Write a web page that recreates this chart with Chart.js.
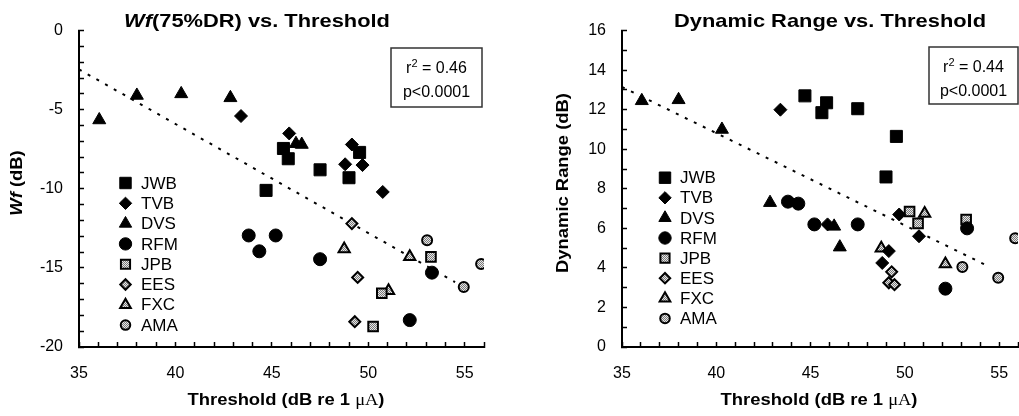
<!DOCTYPE html>
<html>
<head>
<meta charset="utf-8">
<script src="https://cdn.jsdelivr.net/npm/chart.js@4"></script>
<style>
    html, body { margin: 0; padding: 0; background: #fff; }
    body { width: 1019px; height: 416px; overflow: hidden; position: relative; }
    canvas { position: absolute; top: 0; }
    #cWf { left: 0; }
    #cDR { left: 510px; }
</style>
</head>
<body>
<canvas id="cWf" width="510" height="416"></canvas>
<canvas id="cDR" width="530" height="416"></canvas>
<script>
// Data ------------------------------------------------------------
const subjects = ['JWB', 'TVB', 'DVS', 'RFM', 'JPB', 'EES', 'FXC', 'AMA'];

const jwbThr = [44.7, 45.6, 45.85, 47.5, 49.0, 49.55];
const jwbWf = [-10.1, -7.45, -8.1, -8.8, -9.3, -7.7];
const jwbDR = [12.7, 11.85, 12.35, 12.05, 8.6, 10.65];

const tvbThr = [43.4, 45.9, 48.8, 49.15, 49.7, 50.75];
const tvbWf = [-5.4, -6.5, -8.45, -7.2, -8.5, -10.2];
const tvbDR = [12.0, 6.2, 4.25, 4.85, 6.7, 5.6];

const dvsThr = [36.05, 38.0, 40.3, 42.85, 46.25, 46.55];
const dvsWf = [-5.65, -4.1, -4.0, -4.25, -7.15, -7.2];
const dvsDR = [12.45, 12.5, 11.0, 7.3, 6.1, 5.05];

const rfmThr = [43.8, 44.35, 45.2, 47.5, 52.15, 53.3];
const rfmWf = [-12.95, -13.95, -12.95, -14.45, -18.3, -15.3];
const rfmDR = [7.35, 7.25, 6.2, 6.2, 2.95, 6.0];

const jpbThr = [50.25, 50.7, 53.25];
const jpbWf = [-18.7, -16.6, -14.3];
const jpbDR = [6.85, 6.25, 6.45];

const eesThr = [49.15, 49.3, 49.45];
const eesWf = [-12.2, -18.4, -15.6];
const eesDR = [3.25, 3.8, 3.15];

const fxcThr = [48.75, 51.05, 52.15];
const fxcWf = [-13.8, -16.45, -14.3];
const fxcDR = [5.0, 6.75, 4.2];

const amaThr = [53.05, 54.95, 55.85];
const amaWf = [-13.25, -16.2, -14.75];
const amaDR = [4.05, 3.5, 5.5];

// regression lines (end points)
const trendX = [35, 54.5];
const wfTrend = [-2.45, -15.9];
const drTrend = [13.15, 4.05];

// axis ranges / tick labels
const xRange = [35, 56];
const xLabels = [35, 40, 45, 50, 55];
const wfRange = [-20, 0];
const wfLabels = [-20, -15, -10, -5, 0];
const drRange = [0, 16];
const drLabels = [0, 2, 4, 6, 8, 10, 12, 14, 16];

const wfStats = ['0.46', 'p<0.0001'];
const drStats = ['0.44', 'p<0.0001'];

// ------------------------------------------------------------------
Chart.defaults.font.family = "'Liberation Sans', Arial, sans-serif";
Chart.defaults.color = '#000';

// grey stipple for the open symbols
var pc = document.createElement('canvas');
pc.width = 2; pc.height = 2;
var pctx = pc.getContext('2d');
pctx.fillStyle = '#e6e6e6'; pctx.fillRect(0, 0, 2, 2);
pctx.fillStyle = '#7a7a7a'; pctx.fillRect(0, 0, 1, 1); pctx.fillRect(1, 1, 1, 1);
var stipple = pctx.createPattern(pc, 'repeat');

var symbols = {
    JWB: { pointStyle: 'rect', radius: 8.5, fill: '#000', bw: 1 },
    TVB: { pointStyle: 'rectRot', radius: 6.5, fill: '#000', bw: 1 },
    DVS: { pointStyle: 'triangle', radius: 7.5, fill: '#000', bw: 1 },
    RFM: { pointStyle: 'circle', radius: 6.5, fill: '#000', bw: 1 },
    JPB: { pointStyle: 'rect', radius: 6.8, fill: stipple, bw: 2 },
    EES: { pointStyle: 'rectRot', radius: 5.5, fill: stipple, bw: 2 },
    FXC: { pointStyle: 'triangle', radius: 6.5, fill: stipple, bw: 2 },
    AMA: { pointStyle: 'circle', radius: 5, fill: stipple, bw: 2 }
};

function toPoints(xs, ys) {
    return xs.map(function (x, i) { return { x: x, y: ys[i] }; });
}

function subjectSet(name, xs, ys) {
    var s = symbols[name];
    return {
        label: name,
        data: toPoints(xs, ys),
        pointStyle: s.pointStyle,
        pointRadius: s.radius,
        pointBackgroundColor: s.fill,
        pointBorderColor: '#000',
        pointBorderWidth: s.bw,
        order: 1
    };
}

function trendSet(ys) {
    return {
        label: 'fit',
        data: toPoints(trendX, ys),
        showLine: true,
        pointRadius: 0,
        borderColor: '#000',
        borderWidth: 2,
        borderDash: [3, 7],
        order: 10
    };
}

var WIDE = 1.15; // bold headings in the scan are a bit wider than Arial

// draw a run of text pieces (each with own font) centred at x,y
function textParts(c, parts, x, y, angle) {
    var w = 0;
    parts.forEach(function (p) { c.font = p[1]; w += c.measureText(p[0]).width; });
    c.save();
    c.translate(x, y);
    if (angle) c.rotate(angle);
    c.scale(WIDE, 1);
    c.textBaseline = 'middle';
    c.textAlign = 'left';
    c.fillStyle = '#000';
    var cx = -w / 2;
    parts.forEach(function (p) {
        c.font = p[1];
        c.fillText(p[0], cx, 0);
        cx += c.measureText(p[0]).width;
    });
    c.restore();
}

var B19 = "bold 19px 'Liberation Sans', Arial, sans-serif";
var BI19 = "italic bold 19px 'Liberation Sans', Arial, sans-serif";
var B16 = "bold 16px 'Liberation Sans', Arial, sans-serif";
var BI16 = "italic bold 16px 'Liberation Sans', Arial, sans-serif";
var S16 = "16px 'Liberation Serif', 'Times New Roman', serif";
var R16 = "16px 'Liberation Sans', Arial, sans-serif";
var R11 = "11px 'Liberation Sans', Arial, sans-serif";
var R17 = "17px 'Liberation Sans', Arial, sans-serif";

function decor(cfg) {
    return {
        id: 'decor',
        afterDraw: function (chart) {
            var c = chart.ctx;
            // title
            textParts(c, cfg.title, cfg.titleX, 22);
            // axis titles
            textParts(c, cfg.yTitle, cfg.yTitleX, 183, -Math.PI / 2);
            textParts(c, [['Threshold (dB re 1 ', B16], ['\u03bcA', S16], [')', B16]], cfg.xTitleX, 401);

            // stats box
            var b = cfg.box;
            c.save();
            c.strokeStyle = '#333';
            c.lineWidth = 1.5;
            c.strokeRect(b[0], b[1], b[2], b[3]);
            c.fillStyle = '#000';
            c.textBaseline = 'alphabetic';
            c.textAlign = 'left';
            var cx = b[0] + b[2] / 2;
            c.font = R16; var w1 = c.measureText('r').width;
            var w3 = c.measureText(' = ' + cfg.stats[0]).width;
            c.font = R11; var w2 = c.measureText('2').width;
            var sx = cx - (w1 + w2 + w3) / 2;
            var by = b[1] + 24.5;
            c.font = R16; c.fillText('r', sx, by);
            c.font = R11; c.fillText('2', sx + w1, by - 6);
            c.font = R16; c.fillText(' = ' + cfg.stats[0], sx + w1 + w2, by);
            c.textAlign = 'center';
            c.fillText(cfg.stats[1], cx, b[1] + 48.5);
            c.restore();

            // legend
            var lg = cfg.legend;
            subjects.forEach(function (name, i) {
                var s = symbols[name];
                var y = lg.y + i * lg.step;
                c.save();
                c.fillStyle = s.fill;
                c.strokeStyle = '#000';
                c.lineWidth = s.bw;
                Chart.helpers.drawPoint(c, { pointStyle: s.pointStyle, radius: s.radius * 0.95, rotation: 0, borderWidth: s.bw }, lg.mx, y);
                c.fillStyle = '#000';
                c.font = R17;
                c.textAlign = 'left';
                c.textBaseline = 'middle';
                c.fillText(name, lg.tx, y + 1);
                c.restore();
            });
        }
    };
}

function xAxis() {
    return {
        type: 'linear',
        min: xRange[0],
        max: xRange[1],
        afterFit: function (s) { s.height = 69; },
        border: { color: '#000', width: 2 },
        grid: { drawOnChartArea: false, drawTicks: true, tickLength: -5, tickWidth: 1.5, tickColor: '#000' },
        ticks: {
            stepSize: 1, maxTicksLimit: 40, autoSkip: false, maxRotation: 0, padding: 22,
            font: { size: 16 }, color: '#000',
            callback: function (v) { return xLabels.indexOf(v) >= 0 ? v : ''; }
        }
    };
}

function yAxis(range, labels, width) {
    return {
        type: 'linear',
        min: range[0],
        max: range[1],
        afterFit: function (s) { s.width = width; },
        border: { color: '#000', width: 2 },
        grid: { drawOnChartArea: false, drawTicks: true, tickLength: -5, tickWidth: 1.5, tickColor: '#000' },
        ticks: {
            stepSize: 1, maxTicksLimit: 40, autoSkip: false, padding: 21,
            font: { size: 16 }, color: '#000',
            callback: function (v) { return labels.indexOf(v) >= 0 ? v : ''; }
        }
    };
}

var baseOptions = {
    responsive: false,
    animation: false,
    events: [],
    plugins: { legend: { display: false }, tooltip: { enabled: false } }
};

// Chart Wf vs Threshold -------------------------------------
var ctx = document.getElementById('cWf');
var wfChart = new Chart(ctx, {
    type: 'scatter',
    data: {
        datasets: [
            subjectSet('JWB', jwbThr, jwbWf),
            subjectSet('TVB', tvbThr, tvbWf),
            subjectSet('DVS', dvsThr, dvsWf),
            subjectSet('RFM', rfmThr, rfmWf),
            subjectSet('JPB', jpbThr, jpbWf),
            subjectSet('EES', eesThr, eesWf),
            subjectSet('FXC', fxcThr, fxcWf),
            subjectSet('AMA', amaThr, amaWf),
            trendSet(wfTrend)
        ]
    },
    options: Object.assign({}, baseOptions, {
        layout: { padding: { top: 20, right: 26, left: 0, bottom: 0 } },
        scales: { x: xAxis(), y: yAxis(wfRange, wfLabels, 79) }
    }),
    plugins: [decor({
        title: [['Wf', BI19], ['(75%DR) vs. Threshold', B19]],
        titleX: 257,
        yTitle: [['Wf', BI16], [' (dB)', B16]],
        yTitleX: 18,
        xTitleX: 286,
        box: [391, 48, 91, 59],
        stats: wfStats,
        legend: { mx: 125.5, tx: 141, y: 183, step: 20.3 }
    })]
});

// Chart Dynamic Range vs Threshold -------------------------------------
var ctx2 = document.getElementById('cDR');
var drChart = new Chart(ctx2, {
    type: 'scatter',
    data: {
        datasets: [
            subjectSet('JWB', jwbThr, jwbDR),
            subjectSet('TVB', tvbThr, tvbDR),
            subjectSet('DVS', dvsThr, dvsDR),
            subjectSet('RFM', rfmThr, rfmDR),
            subjectSet('JPB', jpbThr, jpbDR),
            subjectSet('EES', eesThr, eesDR),
            subjectSet('FXC', fxcThr, fxcDR),
            subjectSet('AMA', amaThr, amaDR),
            trendSet(drTrend)
        ]
    },
    options: Object.assign({}, baseOptions, {
        layout: { padding: { top: 17, right: 13, left: 0, bottom: 0 } },
        scales: { x: xAxis(), y: yAxis(drRange, drLabels, 112) }
    }),
    plugins: [decor({
        title: [['Dynamic Range vs. Threshold', B19]],
        titleX: 320,
        yTitle: [['Dynamic Range (dB)', B16]],
        yTitleX: 54,
        xTitleX: 309,
        box: [419, 47, 89, 57],
        stats: drStats,
        legend: { mx: 155, tx: 170, y: 177.7, step: 20.1 }
    })]
});
</script>
</body>
</html>
